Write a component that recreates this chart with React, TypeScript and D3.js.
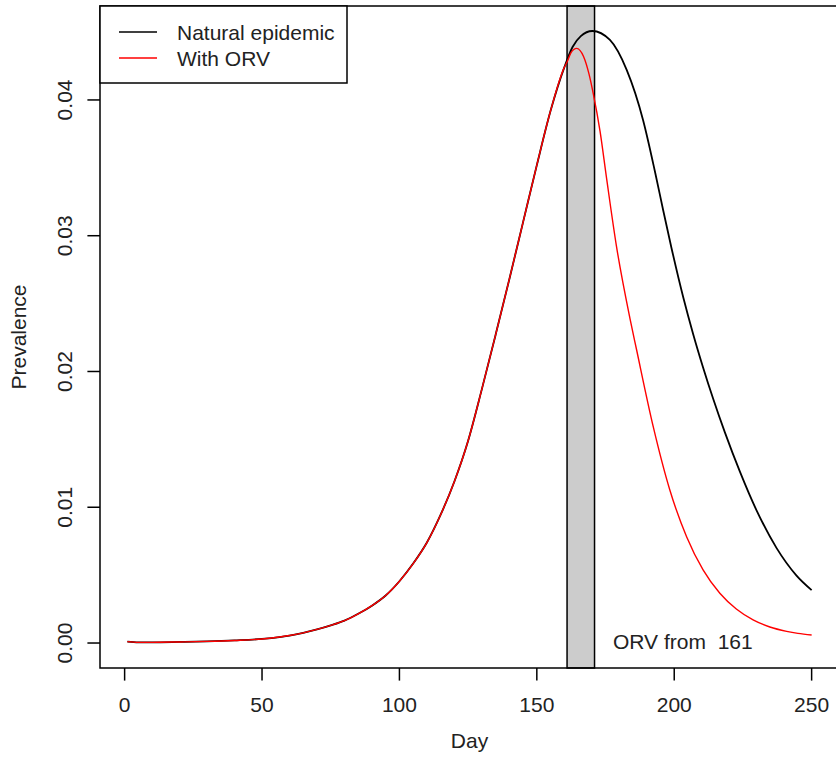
import React from "react";
import * as d3 from "d3";

// ---- data ----
const naturalDays = [1, 5, 10, 20, 30, 40, 50, 57, 60, 65, 70, 75, 80, 85, 90, 95, 100, 105, 110, 115, 120, 125, 130, 135, 140, 145, 150, 155, 160, 163, 166, 170.2, 176.6, 182.7, 188.7, 193, 196, 199, 203.3, 206.9, 210.5, 214.2, 218.4, 223.9, 230, 237.2, 244.5, 250];
const naturalValues = [0.0001, 0.00005, 0.00005, 0.00008, 0.00012, 0.00019, 0.0003, 0.00046, 0.00055, 0.00075, 0.001, 0.0013, 0.00165, 0.00215, 0.00275, 0.0035, 0.00455, 0.00585, 0.0074, 0.00945, 0.0119, 0.0149, 0.0187, 0.0227, 0.0268, 0.031, 0.0352, 0.0392, 0.0424, 0.0439, 0.0447, 0.04508, 0.04442, 0.04221, 0.03849, 0.03471, 0.03186, 0.0291, 0.02545, 0.02275, 0.0203, 0.01797, 0.01553, 0.01262, 0.00975, 0.00701, 0.00497, 0.0039];

const orvDays = [161, 162.5, 164.5, 167, 169, 170.5, 173, 175.4, 179, 183.9, 186.3, 192.4, 198.4, 204.5, 210.5, 216.6, 222.6, 228.7, 234.8, 240.9, 245, 250];
const orvValues = [0.0428, 0.0435, 0.0438, 0.0432, 0.0419, 0.0405, 0.0377, 0.0342, 0.0292, 0.0239, 0.0216, 0.0159, 0.01127, 0.00783, 0.00538, 0.00366, 0.0025, 0.0017, 0.00118, 0.00086, 0.00071, 0.00059];

const orvStart = 161;
const orvEnd = 171;
const xTicks = [0, 50, 100, 150, 200, 250];
const yTicks = [0, 0.01, 0.02, 0.03, 0.04];
const yTickLabels = ["0.00", "0.01", "0.02", "0.03", "0.04"];
const legendLabels = ["Natural epidemic", "With ORV"];
const legendColors = ["#000000", "#FF0000"];

const W = 836;
const H = 759;
const FONT = "'Liberation Sans', Arial, Helvetica, sans-serif";
const FS = 21;

export default function App() {
  const left = 100, right = 839, top = 6, bottom = 668;
  const x = d3.scaleLinear().domain([-8.96, 259.96]).range([left, right]);
  const y = d3.scaleLinear().domain([-0.00184, 0.04692]).range([bottom, top]);

  const naturalPts: [number, number][] = naturalDays.map((d, i) => [d, naturalValues[i]]);
  const orvPts: [number, number][] = [
    ...naturalDays.map((d, i) => [d, naturalValues[i]] as [number, number]).filter((p) => p[0] < orvStart),
    ...orvDays.map((d, i) => [d, orvValues[i]] as [number, number]),
  ];

  const line = d3
    .line<[number, number]>()
    .x((p) => x(p[0]))
    .y((p) => y(p[1]))
    .curve(d3.curveMonotoneX);

  return (
    <svg
      width={W}
      height={H}
      style={{ position: "absolute", left: 0, top: 0, display: "block", background: "#fff" }}
      fontFamily={FONT}
    >
      <rect x={0} y={0} width={W} height={H} fill="#fff" />
      {/* ORV shaded period */}
      <rect
        x={x(orvStart)}
        y={top}
        width={x(orvEnd) - x(orvStart)}
        height={bottom - top}
        fill="#CCCCCC"
        stroke="#000"
        strokeWidth={1.5}
      />
      {/* curves */}
      <path d={line(naturalPts) || ""} fill="none" stroke="#000" strokeWidth={1.8} />
      <path d={line(orvPts) || ""} fill="none" stroke="#FF0000" strokeWidth={1.4} />

      {/* box */}
      <rect x={left} y={top} width={right - left} height={bottom - top} fill="none" stroke="#000" strokeWidth={1.5} />

      {/* x axis */}
      {xTicks.map((t) => (
        <g key={"x" + t}>
          <line x1={x(t)} x2={x(t)} y1={bottom} y2={bottom + 12.6} stroke="#000" strokeWidth={1.5} />
          <text x={x(t)} y={712} textAnchor="middle" fontSize={FS} fill="#222">
            {t}
          </text>
        </g>
      ))}
      {/* y axis */}
      {yTicks.map((t, i) => (
        <g key={"y" + t}>
          <line x1={left - 12.6} x2={left} y1={y(t)} y2={y(t)} stroke="#000" strokeWidth={1.5} />
          <text
            transform={`translate(72,${y(t)}) rotate(-90)`}
            textAnchor="middle"
            fontSize={FS}
            fill="#222"
          >
            {yTickLabels[i]}
          </text>
        </g>
      ))}

      {/* axis titles */}
      <text x={(left + right) / 2} y={748} textAnchor="middle" fontSize={FS} fill="#222">
        Day
      </text>
      <text
        transform={`translate(26,${(top + bottom) / 2}) rotate(-90)`}
        textAnchor="middle"
        fontSize={FS}
        fill="#222"
      >
        Prevalence
      </text>

      {/* annotation */}
      <text x={613} y={649} fontSize={FS} fill="#222" style={{ whiteSpace: "pre" }}>
        {"ORV from  " + orvStart}
      </text>

      {/* legend */}
      <rect x={left} y={top} width={247} height={77} fill="#fff" stroke="#000" strokeWidth={1.5} />
      {legendLabels.map((lab, i) => (
        <g key={lab}>
          <line x1={119} x2={157} y1={32 + i * 26} y2={32 + i * 26} stroke={legendColors[i]} strokeWidth={1.5} />
          <text x={177} y={32 + i * 26 + 7.5} fontSize={FS} fill="#222">
            {lab}
          </text>
        </g>
      ))}
    </svg>
  );
}
